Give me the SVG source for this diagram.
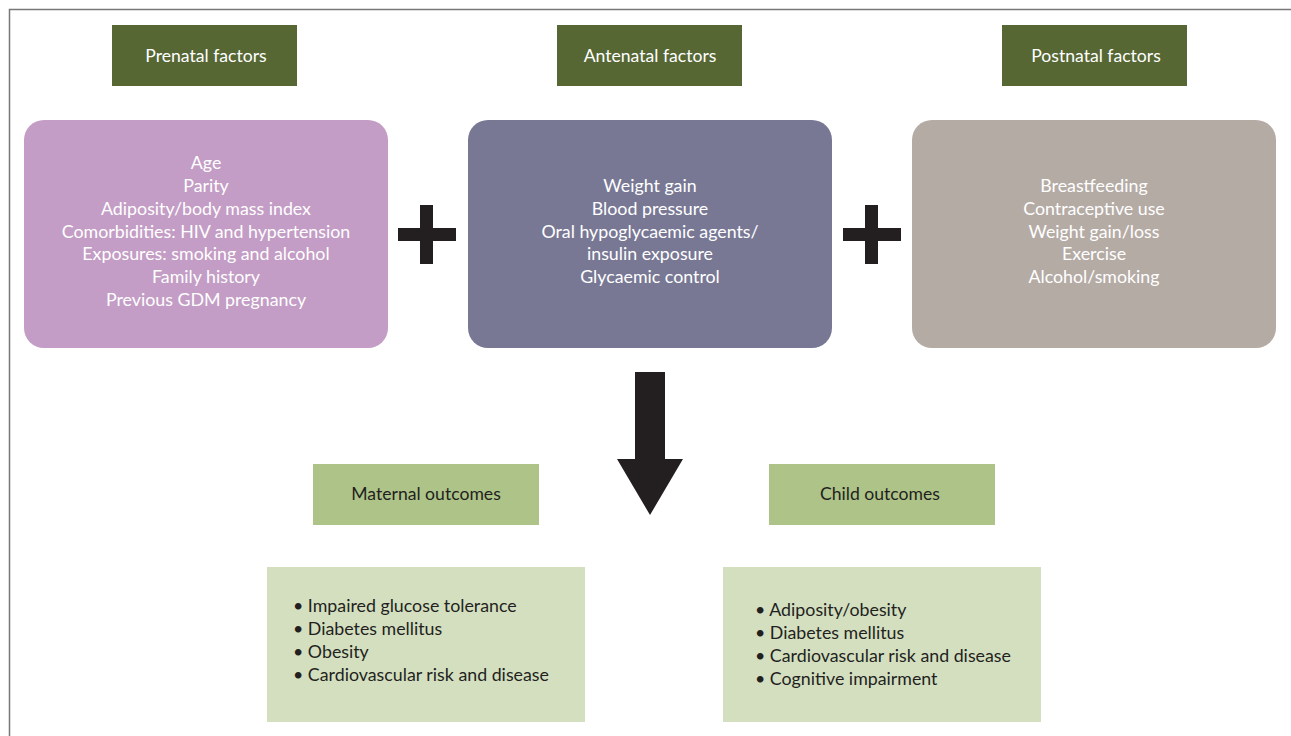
<svg xmlns="http://www.w3.org/2000/svg" width="1291" height="736" viewBox="0 0 1291 736">
<style>
.hdr{fill:#566734}
.hdrt{fill:#ffffff;font-family:"Lato","Liberation Sans",sans-serif;font-size:17.6px;text-anchor:middle}
.bt{fill:#ffffff;font-family:"Lato","Liberation Sans",sans-serif;font-size:17.8px;text-anchor:middle}
.oh{fill:#adc388}
.oht{fill:#231f20;font-family:"Lato","Liberation Sans",sans-serif;font-size:17.6px;text-anchor:middle}
.ob{fill:#d4dfc0}
.obt{fill:#231f20;font-family:"Lato","Liberation Sans",sans-serif;font-size:17.8px}
.sym{fill:#231f20}
</style>
<rect width="1291" height="736" fill="#ffffff"/>
<path d="M9.5 736 V9.5 H1291" fill="none" stroke="#777777" stroke-width="1.5"/>
<g id="prenatal-header"><rect class="hdr" x="112" y="25" width="185" height="61"/><text class="hdrt" x="206" y="62">Prenatal factors</text></g>
<g id="antenatal-header"><rect class="hdr" x="557" y="25" width="185" height="61"/><text class="hdrt" x="650" y="62">Antenatal factors</text></g>
<g id="postnatal-header"><rect class="hdr" x="1002" y="25" width="185" height="61"/><text class="hdrt" x="1096" y="62">Postnatal factors</text></g>
<g id="prenatal-box"><rect x="24" y="120" width="364" height="228" rx="20" fill="#c39dc5"/>
<text class="bt"><tspan x="206" y="169">Age</tspan><tspan x="206" y="192">Parity</tspan><tspan x="206" y="215">Adiposity/body mass index</tspan><tspan x="206" y="238">Comorbidities: HIV and hypertension</tspan><tspan x="206" y="260">Exposures: smoking and alcohol</tspan><tspan x="206" y="283">Family history</tspan><tspan x="206" y="306">Previous GDM pregnancy</tspan></text></g>
<g id="antenatal-box"><rect x="468" y="120" width="364" height="228" rx="20" fill="#787895"/>
<text class="bt"><tspan x="650" y="192">Weight gain</tspan><tspan x="650" y="215">Blood pressure</tspan><tspan x="650" y="238">Oral hypoglycaemic agents/</tspan><tspan x="650" y="260">insulin exposure</tspan><tspan x="650" y="283">Glycaemic control</tspan></text></g>
<g id="postnatal-box"><rect x="912" y="120" width="364" height="228" rx="20" fill="#b5aba5"/>
<text class="bt"><tspan x="1094" y="192">Breastfeeding</tspan><tspan x="1094" y="215">Contraceptive use</tspan><tspan x="1094" y="238">Weight gain/loss</tspan><tspan x="1094" y="260">Exercise</tspan><tspan x="1094" y="283">Alcohol/smoking</tspan></text></g>
<g id="plus1" class="sym"><rect x="398" y="228" width="58" height="13"/><rect x="420" y="205" width="13" height="59"/></g>
<g id="plus2" class="sym"><rect x="843" y="228" width="58" height="13"/><rect x="865" y="205" width="13" height="59"/></g>
<g id="connectors"><path class="sym" d="M635 372 H665 V459 H683 L650 515 L617 459 H635 Z"/></g>
<g id="maternal-header"><rect class="oh" x="313" y="464" width="226" height="61"/><text class="oht" x="426" y="500">Maternal outcomes</text></g>
<g id="child-header"><rect class="oh" x="769" y="464" width="226" height="61"/><text class="oht" x="880" y="500">Child outcomes</text></g>
<g id="maternal-box"><rect class="ob" x="267" y="567" width="318" height="155"/>
<text class="obt"><tspan x="293" y="612">• Impaired glucose tolerance</tspan><tspan x="293" y="635">• Diabetes mellitus</tspan><tspan x="293" y="658">• Obesity</tspan><tspan x="293" y="681">• Cardiovascular risk and disease</tspan></text></g>
<g id="child-box"><rect class="ob" x="723" y="567" width="318" height="155"/>
<text class="obt"><tspan x="755" y="616">• Adiposity/obesity</tspan><tspan x="755" y="639">• Diabetes mellitus</tspan><tspan x="755" y="662">• Cardiovascular risk and disease</tspan><tspan x="755" y="685">• Cognitive impairment</tspan></text></g>
</svg>
